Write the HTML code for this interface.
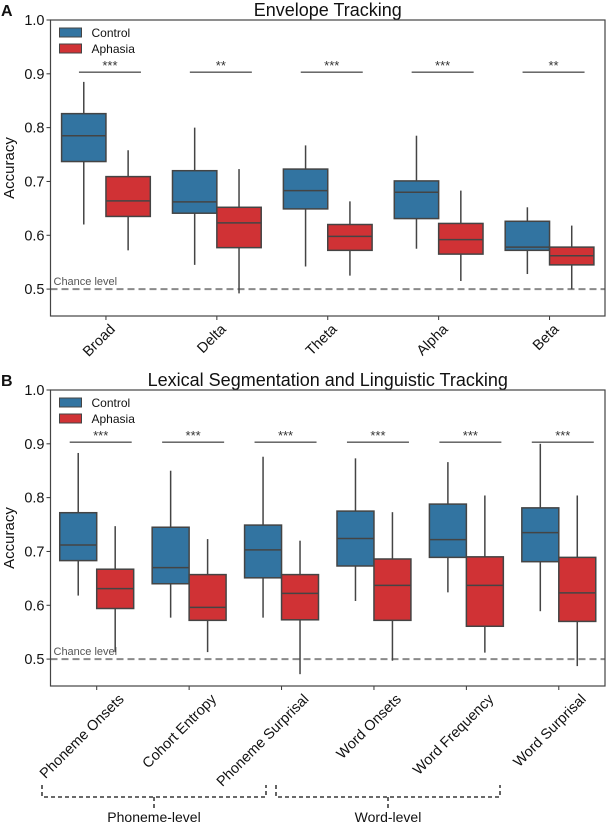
<!DOCTYPE html>
<html><head><meta charset="utf-8"><style>
body{margin:0;background:#fff}
svg{display:block;font-family:"Liberation Sans",sans-serif}
</style></head><body>
<svg id="fig" width="608" height="824" viewBox="0 0 608 824"></svg>
<script>
const catsA = ["Broad","Delta","Theta","Alpha","Beta"];
const ctrlA = [[0.62,0.737,0.785,0.826,0.885],[0.545,0.641,0.662,0.72,0.8],[0.542,0.649,0.683,0.723,0.767],[0.575,0.631,0.68,0.701,0.785],[0.528,0.572,0.578,0.626,0.652]];
const aphA = [[0.572,0.635,0.664,0.709,0.758],[0.492,0.577,0.623,0.652,0.723],[0.525,0.572,0.598,0.62,0.663],[0.515,0.565,0.592,0.622,0.683],[0.5,0.545,0.562,0.578,0.618]];
const sigA = ["***","**","***","***","**"];
const catsB = ["Phoneme Onsets","Cohort Entropy","Phoneme Surprisal","Word Onsets","Word Frequency","Word Surprisal"];
const ctrlB = [[0.618,0.683,0.712,0.772,0.883],[0.577,0.64,0.67,0.745,0.85],[0.577,0.651,0.703,0.749,0.876],[0.608,0.673,0.724,0.775,0.873],[0.624,0.689,0.722,0.788,0.866],[0.589,0.681,0.735,0.781,0.9]];
const aphB = [[0.513,0.594,0.631,0.667,0.747],[0.513,0.572,0.596,0.657,0.723],[0.472,0.573,0.622,0.657,0.72],[0.497,0.572,0.637,0.686,0.773],[0.512,0.561,0.637,0.69,0.804],[0.487,0.57,0.623,0.689,0.804]];
const sigB = ["***","***","***","***","***","***"];
const yTicks = [0.5,0.6,0.7,0.8,0.9,1.0];
const yTickLabels = ["0.5","0.6","0.7","0.8","0.9","1.0"];
const sigLevel = 0.903;
const chance = 0.5;

const NS="http://www.w3.org/2000/svg";
const svg=document.getElementById('fig');
function mk(tag,attrs,parent,text){const e=document.createElementNS(NS,tag);for(const k in attrs)e.setAttribute(k,attrs[k]);if(text!==undefined)e.textContent=text;(parent||svg).appendChild(e);return e;}

function panel(p){
  const g=mk('g',{});
  
  
  const L=50.5,R=605,top=p.top,bot=p.bot;
  const ymin=0.45,ymax=1.0;
  const Y=v=>bot-(v-ymin)/(ymax-ymin)*(bot-top);
  const n=p.cats.length,step=(R-L)/n;
  const X=i=>L+step*(i+0.5);
  const t=mk('text',{x:(L+R)/2,y:top-4,'text-anchor':'middle','font-size':18,fill:'#111'},g,p.title);
  
  
  const pl=mk('text',{x:1,y:top-4,'font-size':16,'font-weight':'bold',fill:'#111'},g,p.letter);
  
  
  const cl=mk('line',{x1:L,x2:R,y1:Y(chance),y2:Y(chance),stroke:'#8a8a8a','stroke-width':2,'stroke-dasharray':'7,4'},g);
  
  
  const ct=mk('text',{x:L+3,y:Y(chance)-4,'font-size':11,fill:'#555'},g,'Chance level');
  
  
  const bw=step*0.4;
  function box(d,cx,col,nm){
    const bg=mk('g',{},g);
    
    
    mk('line',{x1:cx,x2:cx,y1:Y(d[0]),y2:Y(d[1]),stroke:'#444','stroke-width':1.5},bg);
    mk('line',{x1:cx,x2:cx,y1:Y(d[3]),y2:Y(d[4]),stroke:'#444','stroke-width':1.5},bg);
    mk('rect',{x:cx-bw/2,y:Y(d[3]),width:bw,height:Y(d[1])-Y(d[3]),fill:col,stroke:'#444','stroke-width':1.5},bg);
    mk('line',{x1:cx-bw/2,x2:cx+bw/2,y1:Y(d[2]),y2:Y(d[2]),stroke:'#444','stroke-width':1.5},bg);
  }
  for(let i=0;i<n;i++){
    box(p.ctrl[i],X(i)-bw/2,'#3274a1','box-control-'+i);
    box(p.aph[i],X(i)+bw/2,'#d03235','box-aphasia-'+i);
    const sc=X(i)+4;
    const sl=mk('line',{x1:sc-31,x2:sc+31,y1:Y(sigLevel),y2:Y(sigLevel),stroke:'#555','stroke-width':1.3},g);
    
    
    const st=mk('text',{x:sc,y:Y(sigLevel)-2,'text-anchor':'middle','font-size':13,fill:'#333'},g,p.sig[i]);
    
    
    mk('line',{x1:X(i),x2:X(i),y1:bot,y2:bot+4,stroke:'#333','stroke-width':1},g);
    const lab=mk('text',{x:0,y:0,'text-anchor':'end','font-size':p.lfs,fill:'#111',transform:`translate(${X(i)+p.lx},${bot+p.ly}) rotate(-45)`},g,p.cats[i]);
    
    
  }
  mk('rect',{x:L,y:top,width:R-L,height:bot-top,fill:'none',stroke:'#444','stroke-width':1.2},g);
  for(let k=0;k<yTicks.length;k++){
    mk('line',{x1:L-4,x2:L,y1:Y(yTicks[k]),y2:Y(yTicks[k]),stroke:'#333'},g);
    const yt=mk('text',{x:L-6,y:Y(yTicks[k])+5,'text-anchor':'end','font-size':14.5,fill:'#111'},g,yTickLabels[k]);
    
    
  }
  const ya=mk('text',{x:0,y:0,'text-anchor':'middle','font-size':15,fill:'#111',transform:`translate(14,${(top+bot)/2}) rotate(-90)`},g,'Accuracy');
  
  
  const lg=mk('g',{},g);
  
  
  mk('rect',{x:L+9,y:top+8,width:22,height:9,fill:'#3274a1',stroke:'#444'},lg);
  mk('text',{x:L+41,y:top+17,'font-size':12,fill:'#111'},lg,'Control');
  mk('rect',{x:L+9,y:top+24,width:22,height:9,fill:'#d03235',stroke:'#444'},lg);
  mk('text',{x:L+41,y:top+33,'font-size':12,fill:'#111'},lg,'Aphasia');
}
panel({name:'panel-envelope',letter:'A',title:'Envelope Tracking',top:20,bot:316,cats:catsA,ctrl:ctrlA,aph:aphA,sig:sigA,lfs:14.5,lx:10,ly:14});
panel({name:'panel-lexical',letter:'B',title:'Lexical Segmentation and Linguistic Tracking',top:390,bot:686,cats:catsB,ctrl:ctrlB,aph:aphB,sig:sigB,lfs:14.5,lx:28,ly:14});
function bracket(x1,x2,label,nm){
  const g=mk('g',{});
  
  
  const c=(x1+x2)/2;
  mk('path',{d:`M${x1},785 L${x1},797 L${x2},797 L${x2},785 M${c},797 L${c},810`,fill:'none',stroke:'#111','stroke-width':1.3,'stroke-dasharray':'4,3'},g);
  mk('text',{x:c,y:822,'text-anchor':'middle','font-size':14,fill:'#111'},g,label);
}
bracket(42,266,'Phoneme-level','phoneme-level-bracket');
bracket(276,500,'Word-level','word-level-bracket');
</script>
</body></html>
